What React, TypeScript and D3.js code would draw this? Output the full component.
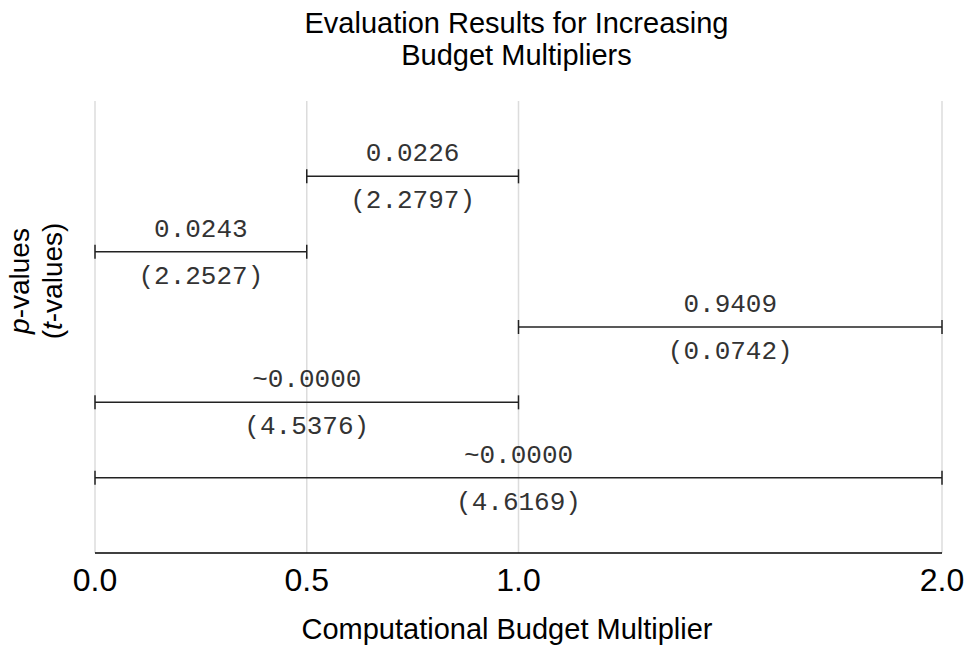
import * as d3 from 'd3'

// comparisons, top row first
const comparisons = ['0.5-1.0', '0.0-0.5', '1.0-2.0', '0.0-1.0', '0.0-2.0']
const fromValues = [0.5, 0.0, 1.0, 0.0, 0.0]
const toValues = [1.0, 0.5, 2.0, 1.0, 2.0]
const pLabels = ['0.0226', '0.0243', '0.9409', '~0.0000', '~0.0000']
const tLabels = ['(2.2797)', '(2.2527)', '(0.0742)', '(4.5376)', '(4.6169)']
const xTicks = [0.0, 0.5, 1.0, 2.0]

export default function App() {
  const width = 965
  const height = 649
  const marginTop = 101
  const marginBottom = 96
  const marginLeft = 95
  const marginRight = 23

  const x = d3.scaleLinear([0, 2], [marginLeft, width - marginRight])
  const y = d3.scalePoint(comparisons, [marginTop, height - marginBottom]).padding(1)
  const cx = (marginLeft + width - marginRight) / 2
  const sans = 'Arial, "Liberation Sans", sans-serif'
  const mono = '"Courier New", "Liberation Mono", monospace'
  const cap = 7

  return (
    <svg width={width} height={height} style={{position: 'absolute', left: 0, top: 0, background: '#fff'}}>
      <text x={cx - 2} y={33} textAnchor="middle" fontFamily={sans} fontSize={29}>Evaluation Results for Increasing</text>
      <text x={cx - 2} y={65} textAnchor="middle" fontFamily={sans} fontSize={29}>Budget Multipliers</text>

      {xTicks.map(t => (
        <line key={t} x1={x(t)} x2={x(t)} y1={marginTop} y2={height - marginBottom} stroke="#dcdcdc" strokeWidth={1.5}/>
      ))}

      {comparisons.map((c, i) => {
        const yy = y(c)!
        const x0 = x(fromValues[i])
        const x1 = x(toValues[i])
        const mid = (x0 + x1) / 2
        return (
          <g key={c}>
            <line x1={x0} x2={x1} y1={yy} y2={yy} stroke="#222" strokeWidth={1.5}/>
            <line x1={x0} x2={x0} y1={yy - cap} y2={yy + cap} stroke="#222" strokeWidth={1.5}/>
            <line x1={x1} x2={x1} y1={yy - cap} y2={yy + cap} stroke="#222" strokeWidth={1.5}/>
            <text x={mid} y={yy - 15} textAnchor="middle" fontFamily={mono} fontSize={26} fill="#333">{pLabels[i]}</text>
            <text x={mid} y={yy + 32} textAnchor="middle" fontFamily={mono} fontSize={26} fill="#333">{tLabels[i]}</text>
          </g>
        )
      })}

      <line x1={marginLeft} x2={width - marginRight} y1={height - marginBottom} y2={height - marginBottom} stroke="#000" strokeWidth={1.5}/>
      {xTicks.map(t => (
        <text key={t} x={x(t)} y={591} textAnchor="middle" fontFamily={sans} fontSize={32}>{d3.format('.1f')(t)}</text>
      ))}
      <text x={507} y={639} textAnchor="middle" fontFamily={sans} fontSize={29}>Computational Budget Multiplier</text>

      <text transform="translate(29,281) rotate(-90)" textAnchor="middle" fontFamily={sans} fontSize={28}>
        <tspan fontStyle="italic">p</tspan>-values
      </text>
      <text transform="translate(62,281) rotate(-90)" textAnchor="middle" fontFamily={sans} fontSize={28}>
        (<tspan fontStyle="italic">t</tspan>-values)
      </text>
    </svg>
  )
}
